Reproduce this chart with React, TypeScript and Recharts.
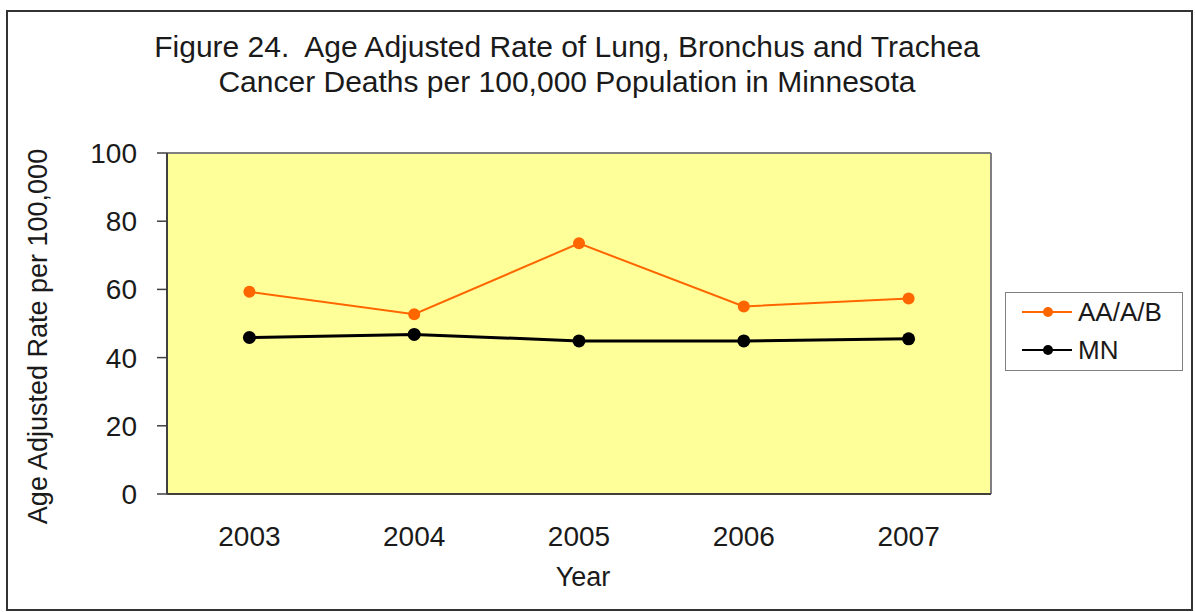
import { LineChart, Line, XAxis, YAxis, CartesianGrid, Legend } from "recharts";

const years = ["2003", "2004", "2005", "2006", "2007"];
const aaab = [59.3, 52.7, 73.5, 55.0, 57.3];
const mn = [45.9, 46.8, 44.9, 44.9, 45.5];
const yTicks = [0, 20, 40, 60, 80, 100];
const bandEdges = [0, 1, 2, 3, 4, 5];

const data = years.map((year, i) => ({ year, aaab: aaab[i], mn: mn[i] }));

const FONT = '"Liberation Sans", Arial, sans-serif';
const TEXT = "#1a1a1a";
const AXIS = "#404040";

function LegendBox({ payload }: any) {
  return (
    <div>
      {(payload ?? []).map((p: any) => (
        <div
          key={p.value}
          style={{ display: "flex", alignItems: "center", height: 38 }}
        >
          <svg width={56} height={20} style={{ marginLeft: 16 }}>
            <line x1={0} y1={10} x2={50} y2={10} stroke={p.color} strokeWidth={2} />
            <circle cx={26} cy={10} r={5} fill={p.color} />
          </svg>
          <span>{p.value}</span>
        </div>
      ))}
    </div>
  );
}

function YTitle({ viewBox }: any) {
  const cx = 38;
  const cy = viewBox.y + viewBox.height / 2 + 13;
  return (
    <text
      x={cx}
      y={cy}
      transform={`rotate(-90 ${cx} ${cy})`}
      textAnchor="middle"
      dominantBaseline="central"
      fontSize={27}
      fontFamily={FONT}
      fill={TEXT}
    >
      Age Adjusted Rate per 100,000
    </text>
  );
}

function XTitle({ viewBox }: any) {
  const cx = viewBox.x + viewBox.width / 2 + 4;
  const cy = viewBox.y + viewBox.height - 35;
  return (
    <text
      x={cx}
      y={cy}
      textAnchor="middle"
      dominantBaseline="central"
      fontSize={27}
      fontFamily={FONT}
      fill={TEXT}
    >
      Year
    </text>
  );
}

export default function App() {
  return (
    <div style={{ position: "relative", width: 1195, height: 612, background: "#fff", fontFamily: FONT }}>
      <style>{`body{margin:0}`}</style>
      <div
        style={{
          position: "absolute",
          left: 6,
          top: 10,
          width: 1187,
          height: 601,
          border: "2px solid #333",
          boxSizing: "border-box",
          pointerEvents: "none",
        }}
      />
      <div
        style={{
          position: "absolute",
          left: 0,
          top: 29,
          width: 1134,
          textAlign: "center",
          fontSize: 30,
          lineHeight: "35px",
          color: TEXT,
        }}
      >
        Figure 24.&nbsp; Age Adjusted Rate of Lung, Bronchus and Trachea
        <br />
        Cancer Deaths per 100,000 Population in Minnesota
      </div>
      <LineChart
        width={1195}
        height={612}
        data={data}
        margin={{ top: 153, right: 204, left: 0, bottom: 0 }}
      >
        <CartesianGrid
          xAxisId="year"
          fill="#FFFF99"
          stroke="#7f7f7f"
          strokeWidth={2}
          horizontalCoordinatesGenerator={({ offset }: any) => [offset.top]}
          verticalCoordinatesGenerator={({ offset }: any) => [offset.left + offset.width]}
        />
        {/* category-boundary tick marks, sits right on the plot's bottom edge */}
        <XAxis
          xAxisId="edge"
          type="number"
          domain={[0, 5]}
          ticks={bandEdges}
          allowDataOverflow
          height={1}
          tick={false}
          tickSize={9}
          axisLine={{ stroke: AXIS, strokeWidth: 2 }}
          tickLine={{ stroke: AXIS, strokeWidth: 1.5 }}
        />
        <XAxis
          xAxisId="year"
          dataKey="year"
          scale="band"
          interval={0}
          height={117}
          axisLine={false}
          tickLine={false}
          tickSize={0}
          tickMargin={31}
          tick={{ fontSize: 28, fill: TEXT, fontFamily: FONT }}
          label={<XTitle />}
        />
        <YAxis
          width={167}
          domain={[0, 100]}
          ticks={yTicks}
          interval={0}
          tickSize={10}
          tickMargin={20}
          axisLine={{ stroke: AXIS, strokeWidth: 2 }}
          tickLine={{ stroke: AXIS, strokeWidth: 1.5 }}
          tick={{ fontSize: 28, fill: TEXT, fontFamily: FONT }}
          label={<YTitle />}
        />
        <Legend
          layout="vertical"
          align="center"
          verticalAlign="middle"
          content={<LegendBox />}
          wrapperStyle={{
            left: 1005,
            top: 292,
            width: 178,
            height: 79,
            border: "1px solid #808080",
            background: "#fff",
            boxSizing: "border-box",
            fontSize: 26,
            color: TEXT,
            fontFamily: FONT,
          }}
        />
        <Line
          xAxisId="year"
          dataKey="aaab"
          name="AA/A/B"
          stroke="#FF6600"
          strokeWidth={2}
          dot={{ r: 6, fill: "#FF6600", stroke: "#FF6600", strokeWidth: 0 }}
          activeDot={false}
          isAnimationActive={false}
        />
        <Line
          xAxisId="year"
          dataKey="mn"
          name="MN"
          stroke="#000000"
          strokeWidth={3}
          dot={{ r: 6.5, fill: "#000000", stroke: "#000000", strokeWidth: 0 }}
          activeDot={false}
          isAnimationActive={false}
        />
      </LineChart>
    </div>
  );
}
